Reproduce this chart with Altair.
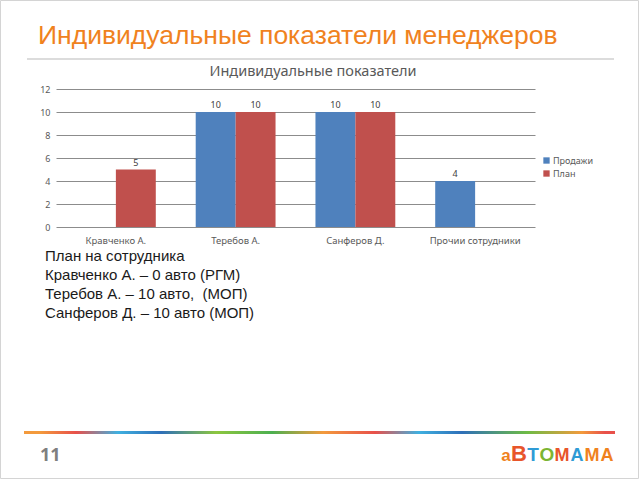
import altair as alt
import pandas as pd

# ---- data ----
categories = ["Кравченко А.", "Теребов А.", "Санферов Д.", "Прочии сотрудники"]
series_names = ["Продажи", "План"]
sales = [0, 10, 10, 4]
plan = [5, 10, 10, 0]
y_ticks = [0, 2, 4, 6, 8, 10, 12]

slide_title = "Индивидуальные показатели менеджеров"
chart_title = "Индивидуальные показатели"
note_lines = [
    "План на сотрудника",
    "Кравченко А. – 0 авто (РГМ)",
    "Теребов А. – 10 авто,\u00a0 (МОП)",
    "Санферов Д. – 10 авто (МОП)",
]
page_number = "11"
logo_letters = ["а", "В", "Т", "О", "М", "А", "М", "А"]
logo_colors = ["#F0821E", "#E8552A", "#2F9BD5", "#7CB532", "#E8552A", "#2F9BD5", "#F0821E", "#F0821E"]

rows = []
for i, c in enumerate(categories):
    rows.append({"cat": c, "series": "Продажи", "value": sales[i]})
    rows.append({"cat": c, "series": "План", "value": plan[i]})
df = pd.DataFrame(rows)

BLUE = "#4F81BD"
RED = "#C0504D"
ORANGE = "#F0821E"
W, H = 479, 138
LEFT, TOP = 56, 89

x_enc = alt.X("cat:N", sort=categories, title=None,
              scale=alt.Scale(paddingInner=0, paddingOuter=0),
              axis=alt.Axis(labelAngle=0, domain=False, ticks=False, labelPadding=8,
                            labelFontSize=9.5, labelColor="#595959", labelFont="Noto Sans"))
xo_enc = alt.XOffset("series:N", sort=series_names,
                     scale=alt.Scale(domain=series_names, paddingInner=0, paddingOuter=0.5))
y_enc = alt.Y("value:Q", title=None,
              scale=alt.Scale(domain=[0, 12], nice=False),
              axis=alt.Axis(values=y_ticks, tickCount=7, labelOverlap=False, domain=False,
                            ticks=False, labelPadding=6,
                            labelFontSize=9, labelColor="#595959", labelFont="Noto Sans",
                            gridColor="#8c8c8c", gridWidth=1))

bars = alt.Chart(df).mark_bar().encode(
    x=x_enc, xOffset=xo_enc, y=y_enc,
    color=alt.Color("series:N", sort=series_names,
                    scale=alt.Scale(domain=series_names, range=[BLUE, RED]),
                    legend=alt.Legend(title=None, orient="none", legendX=486, legendY=67,
                                      symbolType="square", symbolSize=40, symbolStrokeWidth=0,
                                      labelFontSize=9, labelColor="#595959", labelFont="Noto Sans",
                                      rowPadding=3, labelOffset=2)),
)

labels = alt.Chart(df).transform_filter("datum.value > 0").mark_text(
    baseline="bottom", dy=-2, fontSize=9, color="#404040", font="Noto Sans"
).encode(x=alt.X("cat:N", sort=categories), xOffset=alt.XOffset("series:N", sort=series_names),
         y="value:Q", text="value:Q")

one = alt.Data(values=[{}])

def txt(text, x, y, **kw):
    return alt.Chart(one).mark_text(text=text, **kw).encode(x=alt.value(x), y=alt.value(y))

layers = [bars, labels]

# frame
layers.append(alt.Chart(one).mark_rect(fill="white", fillOpacity=0, stroke="#d4d4d4", strokeWidth=1).encode(
    x=alt.value(-LEFT + 0.5), x2=alt.value(640 - LEFT - 1.5),
    y=alt.value(-TOP + 0.5), y2=alt.value(480 - TOP - 1.5)))

# slide title
layers.append(txt(slide_title, 38 - LEFT, 44 - TOP, align="left", baseline="alphabetic",
                  fontSize=26.5, color=ORANGE, font="Liberation Sans"))
# separator line
layers.append(alt.Chart(one).mark_rule(color="#d0d0d0", strokeWidth=1.5).encode(
    x=alt.value(27 - LEFT), x2=alt.value(614 - LEFT), y=alt.value(59 - TOP)))
# chart title
layers.append(txt(chart_title, 313 - LEFT, 72 - TOP, align="center", baseline="middle",
                  fontSize=14.5, color="#595959", font="Noto Sans"))
# notes
for i, line in enumerate(note_lines):
    layers.append(txt(line, 45 - LEFT, 256 + 19 * i - TOP, align="left", baseline="middle",
                      fontSize=15, color="#1a1a1a", font="Liberation Sans"))

# rainbow line
stops_spec = [
    (0.0, "#F39A3C"), (0.027, "#F39A3C"), (0.088, "#E8504A"), (0.159, "#3FB0E0"),
    (0.232, "#2E6FB8"), (0.325, "#8CC63F"), (0.42, "#4CAF50"), (0.506, "#F39A3C"),
    (0.594, "#E8504A"), (0.668, "#3FB0E0"), (0.741, "#2E6FB8"), (0.851, "#6DBB45"),
    (0.944, "#F39A3C"), (0.983, "#E8504A"), (1.0, "#E8504A"),
]
grad = alt.LinearGradient(gradient="linear", x1=0, x2=1, y1=0, y2=0,
                          stops=[alt.GradientStop(offset=o, color=c) for o, c in stops_spec])
layers.append(alt.Chart(one).mark_rect(fill=grad).encode(
    x=alt.value(24 - LEFT), x2=alt.value(615 - LEFT),
    y=alt.value(431 - TOP), y2=alt.value(434 - TOP)))

# page number
layers.append(txt(page_number, 40 - LEFT, 456 - TOP, align="left", baseline="middle",
                  fontSize=18, fontWeight="bold", color="#7f7f7f", font="Open Sans"))

# logo
logo_x = [506, 519, 533, 547, 562, 577, 592, 607]
logo_size = [17, 22, 19, 19, 18, 18, 18, 18]
for ch, col, lx, fs in zip(logo_letters, logo_colors, logo_x, logo_size):
    layers.append(txt(ch, lx - LEFT, 461 - TOP, align="center", baseline="alphabetic",
                      fontSize=fs, fontWeight="bold", color=col, font="Liberation Sans"))

chart = alt.layer(*layers).properties(
    width=W, height=H,
    autosize=alt.AutoSizeParams(type="none"),
    padding={"left": LEFT, "top": TOP, "right": 640 - LEFT - W, "bottom": 480 - TOP - H},
    background="white",
).configure_view(strokeWidth=0)

chart.save("out.html", embed_options={"renderer": "svg", "actions": False})
